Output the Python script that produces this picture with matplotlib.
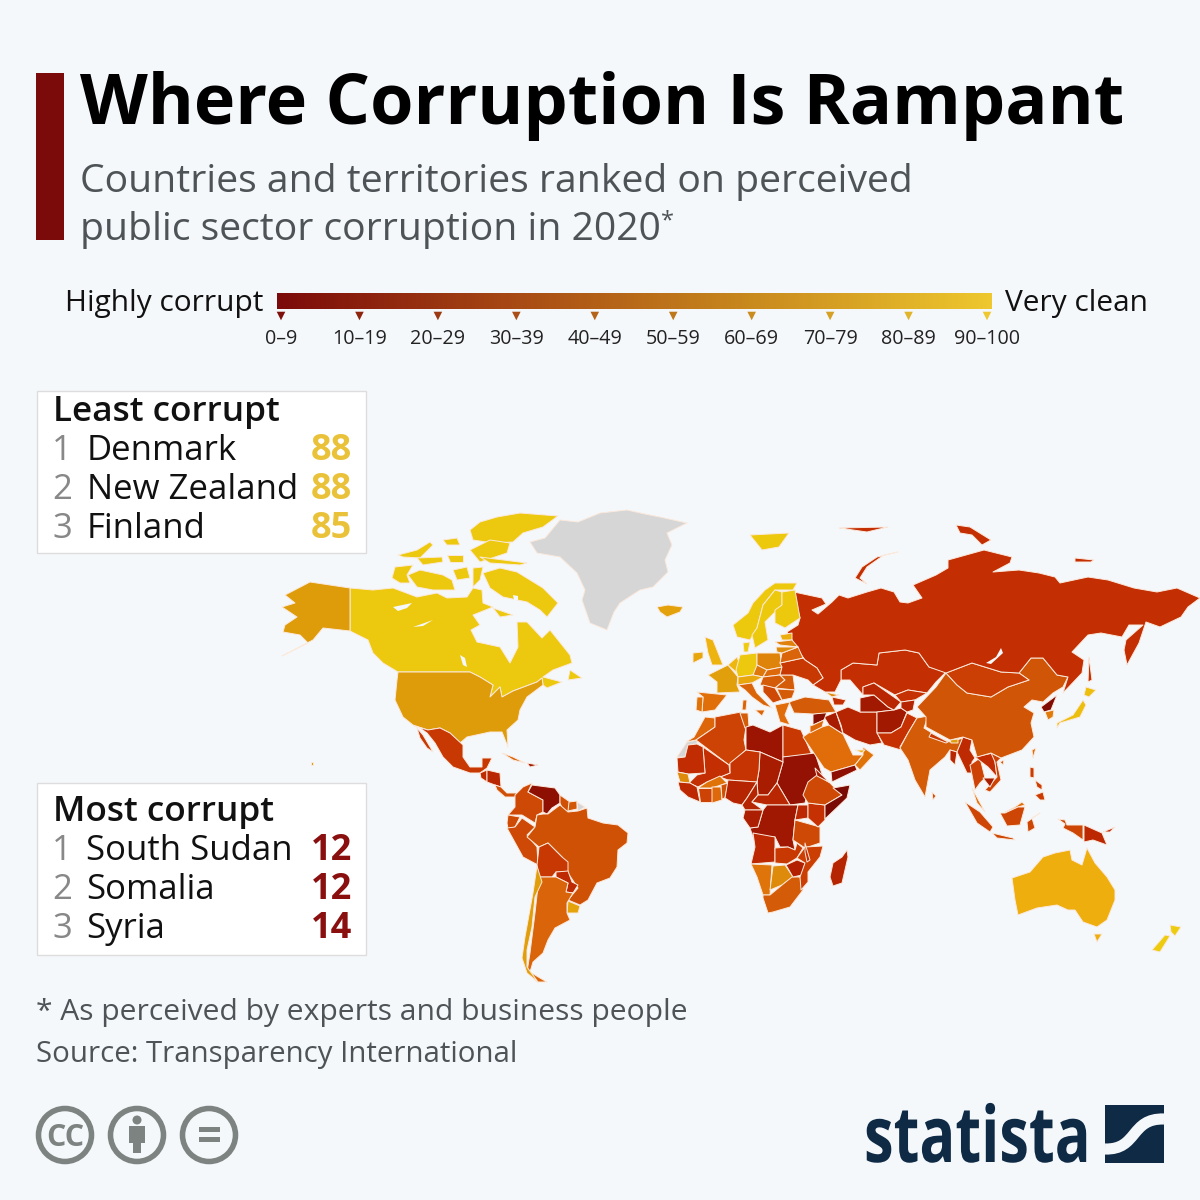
"""Where Corruption Is Rampant: world map of perceived public sector corruption."""

import matplotlib

matplotlib.use("Agg")
import matplotlib.pyplot as plt
import numpy as np
from matplotlib.colors import LinearSegmentedColormap, Normalize
from matplotlib.patches import Circle, PathPatch, Polygon, Rectangle
from matplotlib.path import Path
from matplotlib.patheffects import AbstractPathEffect
from matplotlib.transforms import Affine2D

plt.rcParams["font.family"] = ["Open Sans", "DejaVu Sans"]

BG = "#f5f8fb"
DARK_RED = "#7b0a0a"
GREY_TEXT = "#4d5356"
NO_DATA = "#d6d6d6"
NAVY = "#0f2a45"
ICON = "#7d8380"

TITLE = "Where Corruption Is Rampant"
SUBTITLE = ["Countries and territories ranked on perceived", "public sector corruption in 2020"]
BIN_LABELS = ["0–9", "10–19", "20–29", "30–39", "40–49", "50–59", "60–69", "70–79", "80–89", "90–100"]
LEAST_NAMES = ["Denmark", "New Zealand", "Finland"]
LEAST_SCORES = [88, 88, 85]
MOST_NAMES = ["South Sudan", "Somalia", "Syria"]
MOST_SCORES = [12, 12, 14]
FOOTNOTES = ["* As perceived by experts and business people", "Source: Transparency International"]

# scores as read from the fill colours, None = no data
SCORES = {
    "Canada": 83, "USA": 67, "Greenland": None, "Mexico": 33, "Guatemala": 28, "Honduras": 26,
    "Panama": 40, "Cuba": 47, "Haiti": 18, "Colombia": 38, "Venezuela": 15, "Guyana": 41,
    "Suriname": 43, "French Guiana": None, "Ecuador": 39, "Peru": 38, "Brazil": 41, "Bolivia": 33,
    "Paraguay": 28, "Uruguay": 71, "Argentina": 47, "Chile": 68, "W Sahara": None, "Morocco": 48,
    "Algeria": 36, "Tunisia": 44, "Libya": 17, "Egypt": 33, "Sudan": 16, "Chad": 21, "Niger": 32,
    "Mali": 30, "Mauritania": 29, "Senegal": 60, "Guinea": 27, "Ivory Coast": 36, "Burkina": 52,
    "Ghana": 49, "Benin": 41, "Nigeria": 25, "Cameroon": 25, "CAR": 26, "DRC": 18, "Congo": 22,
    "Angola": 27, "Namibia": 53, "Botswana": 60, "South Africa": 44, "Zimbabwe": 24, "Zambia": 33,
    "Tanzania": 38, "Mozambique": 35, "Malawi": 30, "Uganda": 27, "Kenya": 31, "Ethiopia": 38,
    "Eritrea": 21, "Somalia": 12, "Madagascar": 25, "Saudi": 50, "Yemen": 15, "Oman": 52,
    "Qatar": 76, "Iraq": 21, "Syria": 14, "Jordan": 49, "Turkey": 44, "Georgia": 60, "Armenia": 30,
    "Iran": 25, "Turkmenistan": 19, "Afghanistan": 19, "Pakistan": 31, "India": 44, "Nepal": 33,
    "Bhutan": 68, "Bangladesh": 26, "Myanmar": 28, "Thailand": 36, "Laos": 29, "Vietnam": 36,
    "Cambodia": 21, "Malaysia": 51, "Indonesia": 37, "Philippines": 34, "PNG": 27, "Australia": 76,
    "New Zealand": 88, "Japan": 80, "North Korea": 13, "South Korea": 55, "China": 42,
    "Taiwan": 50, "Mongolia": 35, "Kazakhstan": 30, "Uzbekistan": 26, "Kyrgyzstan": 31,
    "Tajikistan": 25, "Russia": 30, "Iceland": 70, "Norway": 84, "Sweden": 85, "Finland": 85,
    "Sri Lanka": 38, "Denmark": 88, "UK": 77, "Ireland": 72, "France": 69, "Benelux": 78, "Germany": 82,
    "Poland": 58, "Czechia": 54, "Austria": 73, "Slovakia": 49, "Hungary": 44, "Italy": 47,
    "Romania": 44, "Serbia": 38, "Bulgaria": 44, "Greece": 50, "Ukraine": 33, "Belarus": 47,
    "Estonia": 75, "Latvia": 57, "Lithuania": 60, "Spain": 51, "Portugal": 52,
}

# country outlines, in map units
OUTLINES = {
    "Canada": [
        [(350, 588), (373, 590), (393, 588), (417, 597), (437, 593), (447, 598), (467, 597), (473, 588),
         (482, 590), (483, 603), (493, 607), (473, 615), (480, 625), (471, 630), (477, 642), (500, 647),
         (510, 663), (513, 657), (518, 647), (517, 622), (527, 622), (542, 638), (550, 630), (570, 655),
         (572, 663), (553, 670), (543, 677), (562, 682), (547, 688), (543, 685), (542, 678),
         (537, 682), (513, 691), (502, 697), (500, 687), (490, 697), (493, 685), (480, 677), (470, 672),
         (398, 672), (383, 663), (373, 653), (368, 640), (350, 631)],
        [(483, 573), (500, 568), (517, 572), (530, 580), (543, 588), (558, 603), (547, 617), (540, 610), (527, 602), (503, 597), (490, 588)],
        [(470, 530), (480, 522), (497, 517), (520, 513), (558, 516), (543, 527), (523, 533), (513, 542), (493, 543), (473, 540)],
        [(443, 540), (457, 538), (460, 545), (447, 545)],
        [(398, 555), (417, 550), (430, 542), (433, 545), (420, 558), (403, 557)],
        [(417, 558), (442, 557), (443, 562), (423, 565)],
        [(447, 555), (463, 555), (463, 562), (450, 562)],
        [(470, 550), (490, 540), (510, 543), (507, 553), (480, 562)],
        [(480, 557), (527, 563), (520, 565), (490, 563)],
        [(392, 578), (395, 567), (413, 565), (407, 575), (410, 583), (400, 583)],
        [(408, 575), (420, 570), (443, 575), (452, 580), (455, 590), (433, 590), (417, 587)],
        [(453, 570), (467, 567), (470, 578), (457, 580)],
        [(473, 568), (483, 567), (480, 580), (473, 587)],
        [(493, 608), (513, 615), (500, 617)],
        [(570, 670), (582, 678), (568, 680)],
    ],
    "USA": [
        [(398, 672), (470, 672), (480, 677), (493, 685), (490, 697), (500, 687), (502, 697), (513, 691),
         (537, 682), (542, 678), (543, 685), (527, 697), (520, 710), (518, 720), (507, 730), (508, 747),
         (502, 732), (490, 732), (467, 737), (460, 743), (450, 733), (440, 728), (428, 730), (413, 725),
         (403, 717), (395, 700), (397, 680)],
        [(350, 588), (310, 582), (285, 595), (295, 603), (282, 607), (297, 617), (285, 625), (283, 632),
         (300, 635), (308, 643), (282, 656), (313, 640), (323, 628), (350, 631)],
        [(311, 762), (313, 762), (313, 765), (311, 765)],
    ],
    "Greenland": [[(530, 542), (545, 538), (560, 520), (578, 522), (600, 513), (627, 510), (645, 514), (660, 517),
                   (687, 523), (667, 533), (672, 545), (665, 560), (668, 572), (653, 587), (640, 590), (620, 603),
                   (614, 612), (607, 630), (590, 623), (582, 600), (585, 590), (577, 573), (560, 557), (537, 553)]],
    "Mexico": [[(414, 726), (428, 730), (440, 728), (450, 733), (463, 745), (463, 757), (470, 767), (482, 767),
                (482, 758), (492, 758), (487, 768), (480, 773), (470, 773), (453, 767), (443, 757), (435, 743),
                (427, 733), (420, 728)],
               [(417, 728), (423, 735), (433, 752), (427, 748), (420, 738)]],
    "Guatemala": [[(480, 773), (487, 770), (487, 782), (481, 778)]],
    "Honduras": [[(487, 770), (500, 773), (501, 787), (495, 785), (487, 782)]],
    "Panama": [[(495, 785), (501, 787), (507, 793), (517, 793), (515, 797), (505, 797), (497, 790)]],
    "Cuba": [[(502, 753), (513, 757), (525, 763), (513, 760)]],
    "Haiti": [[(527, 763), (538, 765), (530, 767)]],
    "Colombia": [[(532, 783), (528, 792), (543, 800), (543, 812), (537, 815), (535, 823), (522, 815), (508, 815),
                  (515, 807), (515, 795), (523, 787)]],
    "Venezuela": [[(532, 785), (555, 788), (560, 795), (560, 803), (552, 808), (547, 814), (543, 812), (543, 800), (528, 792)]],
    "Guyana": [[(560, 795), (570, 802), (568, 812), (562, 808), (560, 803)]],
    "Suriname": [[(569, 802), (577, 801), (577, 809), (568, 811)]],
    "French Guiana": [[(577, 802), (585, 807), (578, 811)]],
    "Ecuador": [[(508, 815), (520, 817), (515, 827), (508, 829), (507, 823)]],
    "Peru": [[(522, 818), (535, 827), (527, 835), (537, 847), (538, 865), (523, 857), (507, 828), (515, 827)]],
    "Brazil": [[(537, 815), (543, 814), (548, 814), (560, 805), (568, 812), (578, 811), (587, 808), (588, 818),
                (603, 823), (618, 825), (628, 833), (627, 843), (618, 850), (617, 867), (610, 878), (597, 883),
                (588, 900), (580, 905), (568, 900), (578, 888), (568, 873), (562, 857), (548, 843), (539, 847),
                (527, 837), (535, 827)]],
    "Bolivia": [[(539, 847), (548, 843), (562, 857), (568, 862), (568, 872), (556, 872), (552, 877), (539, 877), (537, 865)]],
    "Paraguay": [[(556, 872), (568, 871), (572, 882), (578, 885), (573, 893), (566, 892), (568, 883), (556, 877)]],
    "Uruguay": [[(568, 901), (580, 906), (578, 913), (567, 913)]],
    "Argentina": [[(539, 877), (552, 877), (556, 877), (568, 883), (566, 892), (573, 893), (567, 903), (567, 913),
                   (570, 920), (555, 928), (548, 940), (543, 953), (533, 962), (530, 972), (540, 978), (547, 982),
                   (537, 982), (527, 972), (530, 953), (535, 913)]],
    "Chile": [[(537, 866), (542, 882), (535, 897), (532, 927), (527, 950), (527, 967), (538, 982), (527, 973),
               (522, 958), (525, 937), (533, 893)]],
    "W Sahara": [[(697, 740), (687, 742), (677, 757), (685, 757), (688, 745), (697, 744)]],
    "Morocco": [[(715, 718), (705, 717), (694, 737), (686, 742), (696, 740), (715, 727)]],
    "Algeria": [[(715, 717), (741, 712), (746, 727), (744, 740), (746, 750), (729, 765), (696, 740), (715, 727)]],
    "Tunisia": [[(740, 713), (748, 713), (749, 727), (745, 728)]],
    "Libya": [[(746, 727), (753, 725), (770, 732), (783, 725), (783, 762), (760, 752), (746, 750)]],
    "Egypt": [[(783, 725), (801, 730), (812, 755), (783, 757)]],
    "Sudan": [[(783, 757), (815, 753), (823, 777), (810, 782), (805, 803), (790, 805), (777, 783), (783, 762)]],
    "Chad": [[(760, 752), (783, 762), (777, 783), (768, 795), (758, 795), (757, 782), (759, 770)]],
    "Niger": [[(730, 763), (746, 750), (760, 752), (759, 770), (757, 782), (728, 780), (720, 777), (730, 773)]],
    "Mali": [[(703, 747), (729, 765), (730, 773), (720, 777), (707, 782), (698, 787), (689, 783), (697, 775), (705, 773)]],
    "Mauritania": [[(688, 745), (697, 744), (703, 747), (705, 773), (688, 774), (678, 772), (677, 758), (685, 757)]],
    "Senegal": [[(677, 772), (688, 774), (690, 783), (680, 782)]],
    "Guinea": [[(678, 782), (690, 783), (697, 787), (700, 802), (688, 797), (680, 790)]],
    "Ivory Coast": [[(698, 788), (712, 788), (712, 802), (700, 802)]],
    "Burkina": [[(707, 782), (720, 776), (727, 783), (712, 788), (698, 788)]],
    "Ghana": [[(712, 787), (721, 787), (722, 800), (712, 803)]],
    "Benin": [[(721, 785), (728, 783), (725, 798), (722, 799)]],
    "Nigeria": [[(728, 780), (757, 782), (747, 798), (742, 805), (733, 803), (725, 798)]],
    "Cameroon": [[(757, 782), (758, 795), (752, 802), (763, 810), (745, 810), (742, 805), (747, 798)]],
    "CAR": [[(758, 795), (768, 795), (777, 783), (790, 805), (767, 805), (752, 802)]],
    "DRC": [[(767, 805), (790, 805), (798, 805), (795, 820), (793, 840), (795, 850), (788, 847), (780, 847),
             (775, 837), (753, 837), (750, 828), (758, 827), (763, 810)]],
    "Congo": [[(745, 810), (763, 810), (758, 827), (750, 828), (743, 818)]],
    "Angola": [[(753, 833), (775, 837), (775, 862), (751, 864), (755, 847)]],
    "Namibia": [[(751, 864), (772, 865), (770, 895), (763, 895), (757, 877)]],
    "Botswana": [[(773, 866), (785, 865), (793, 877), (782, 885), (770, 890)]],
    "South Africa": [[(763, 895), (770, 895), (782, 885), (792, 877), (800, 877), (803, 890), (790, 907), (773, 912), (768, 913), (763, 898)]],
    "Zimbabwe": [[(786, 865), (797, 860), (805, 863), (802, 875), (793, 877)]],
    "Zambia": [[(775, 848), (788, 847), (795, 850), (797, 843), (803, 848), (797, 858), (787, 864), (775, 863)]],
    "Tanzania": [[(795, 820), (820, 827), (820, 843), (805, 848), (793, 840)]],
    "Mozambique": [[(805, 847), (823, 846), (820, 857), (808, 872), (808, 882), (801, 890), (800, 877), (805, 863), (797, 858)]],
    "Malawi": [[(805, 843), (810, 860), (807, 862), (805, 852)]],
    "Uganda": [[(798, 805), (808, 805), (808, 818), (795, 820)]],
    "Kenya": [[(808, 803), (825, 805), (825, 820), (818, 827), (808, 818)]],
    "Ethiopia": [[(817, 775), (830, 783), (842, 795), (825, 805), (808, 803), (803, 795), (808, 782)]],
    "Eritrea": [[(815, 768), (829, 782), (817, 776)]],
    "Somalia": [[(833, 788), (850, 785), (847, 798), (825, 819), (825, 805), (842, 795)]],
    "Madagascar": [[(847, 850), (848, 857), (842, 883), (833, 886), (830, 877), (833, 863), (842, 857)]],
    "Saudi": [[(810, 732), (822, 727), (829, 725), (843, 734), (853, 755), (863, 755), (855, 765), (831, 772), (824, 768), (803, 737)]],
    "Yemen": [[(831, 772), (855, 765), (857, 770), (832, 782)]],
    "Oman": [[(863, 747), (874, 755), (860, 770), (855, 765), (863, 755)]],
    "Qatar": [[(855, 750), (865, 750), (862, 753)]],
    "Iraq": [[(824, 717), (836, 712), (841, 727), (843, 734), (829, 725)]],
    "Syria": [[(813, 714), (827, 712), (824, 720), (813, 725)]],
    "Jordan": [[(810, 726), (813, 725), (824, 720), (822, 727), (810, 733)]],
    "Turkey": [[(789, 702), (805, 697), (829, 700), (836, 712), (813, 714), (794, 713)]],
    "Georgia": [[(825, 692), (839, 695), (832, 697)]],
    "Armenia": [[(832, 697), (846, 700), (843, 705), (834, 705)]],
    "Iran": [[(836, 712), (848, 707), (860, 712), (877, 712), (877, 732), (882, 743), (870, 745), (855, 740), (843, 733), (841, 725)]],
    "Turkmenistan": [[(860, 698), (874, 695), (888, 707), (894, 710), (877, 712), (860, 712)]],
    "Afghanistan": [[(877, 712), (894, 710), (901, 708), (907, 712), (901, 727), (891, 733), (877, 733)]],
    "Pakistan": [[(877, 733), (891, 733), (901, 727), (907, 713), (917, 718), (908, 733), (900, 747), (901, 750), (884, 745)]],
    "India": [[(917, 718), (928, 716), (924, 728), (940, 738), (950, 742), (963, 738), (957, 752), (950, 750),
               (945, 757), (930, 770), (925, 797), (915, 780), (908, 760), (900, 748), (908, 733)]],
    "Sri Lanka": [[(932, 792), (936, 796), (933, 800)]],
    "Nepal": [[(931, 733), (948, 742), (946, 743), (929, 737)]],
    "Bhutan": [[(950, 740), (958, 739), (958, 743), (951, 743)]],
    "Bangladesh": [[(950, 750), (957, 752), (955, 765), (950, 760)]],
    "Myanmar": [[(963, 737), (972, 740), (970, 750), (975, 758), (972, 762), (972, 773), (967, 773), (957, 752)]],
    "Thailand": [[(970, 765), (980, 758), (985, 778), (980, 783), (975, 790), (972, 775)]],
    "Laos": [[(975, 757), (993, 753), (995, 762), (997, 777), (988, 767)]],
    "Vietnam": [[(991, 753), (1001, 758), (997, 762), (1001, 780), (990, 792), (985, 790), (997, 777), (995, 762)]],
    "Cambodia": [[(983, 778), (995, 778), (990, 787)]],
    "Malaysia": [[(972, 788), (985, 812), (977, 803)],
                 [(1005, 812), (1015, 807), (1022, 802), (1025, 805), (1018, 807), (1005, 813)]],
    "Indonesia": [[(965, 802), (980, 812), (993, 827), (990, 832), (977, 823)],
                  [(992, 833), (1013, 838), (1015, 840), (997, 838)],
                  [(1000, 813), (1005, 813), (1018, 807), (1025, 807), (1020, 825), (1007, 826)],
                  [(1027, 822), (1040, 813), (1032, 818), (1035, 828), (1028, 832)],
                  [(1058, 819), (1065, 820), (1067, 825), (1083, 825), (1083, 840), (1073, 833), (1063, 828), (1065, 824)]],
    "Philippines": [[(1030, 767), (1034, 768), (1034, 778), (1030, 777)],
                    [(1035, 795), (1043, 792), (1045, 800), (1040, 800)],
                    [(1035, 780), (1042, 785), (1042, 790), (1037, 787)]],
    "PNG": [[(1084, 825), (1102, 833), (1107, 845), (1093, 840), (1084, 842)],
            [(1103, 832), (1115, 827), (1110, 832)]],
    "Australia": [[(1012, 878), (1030, 872), (1043, 857), (1055, 853), (1070, 850), (1072, 860), (1082, 865),
                   (1087, 848), (1095, 863), (1107, 877), (1115, 890), (1115, 900), (1107, 920), (1097, 927),
                   (1083, 922), (1075, 910), (1068, 910), (1057, 905), (1037, 908), (1018, 915), (1015, 900)],
                  [(1094, 934), (1102, 934), (1097, 942)]],
    "New Zealand": [[(1170, 925), (1181, 927), (1175, 936), (1171, 932)],
                    [(1165, 935), (1170, 936), (1160, 952), (1152, 950)]],
    "Japan": [[(1083, 700), (1086, 705), (1080, 717), (1060, 723), (1057, 728), (1057, 723), (1073, 715)],
              [(1086, 687), (1096, 690), (1089, 697), (1084, 695)]],
    "North Korea": [[(1041, 707), (1057, 695), (1051, 710), (1044, 712)]],
    "South Korea": [[(1045, 712), (1054, 710), (1053, 717), (1048, 720)]],
    "China": [[(917, 707), (936, 687), (946, 673), (957, 685), (967, 693), (991, 697), (1008, 687), (1029, 680),
               (1019, 673), (1031, 658), (1043, 658), (1057, 675), (1068, 677), (1063, 687), (1053, 693), (1043, 702),
               (1032, 700), (1024, 707), (1034, 713), (1031, 723), (1034, 737), (1022, 750), (1001, 758), (991, 753),
               (977, 757), (972, 740), (963, 737), (950, 740), (926, 727), (926, 717)],
              [(1000, 762), (1004, 760), (1003, 765)]],
    "Taiwan": [[(1032, 750), (1036, 748), (1033, 758)]],
    "Mongolia": [[(946, 673), (972, 663), (1001, 672), (1019, 673), (1029, 680), (1008, 687), (991, 697), (967, 693), (957, 685)]],
    "Kazakhstan": [[(841, 670), (853, 663), (877, 665), (879, 653), (905, 650), (919, 653), (929, 667), (946, 672),
                    (936, 682), (927, 693), (908, 690), (895, 695), (874, 683), (863, 687), (863, 695), (850, 680), (841, 680)]],
    "Uzbekistan": [[(863, 687), (874, 683), (891, 695), (901, 702), (894, 710), (888, 707), (874, 695), (863, 695)]],
    "Kyrgyzstan": [[(895, 695), (908, 690), (927, 693), (915, 700), (901, 702)]],
    "Tajikistan": [[(901, 702), (915, 700), (913, 710), (907, 712), (901, 708)]],
    "Russia": [
        [(794, 592), (822, 598), (826, 604), (812, 610), (818, 614), (832, 602), (839, 595), (848, 598), (867, 592),
         (881, 588), (894, 592), (900, 602), (908, 603), (922, 598), (913, 585), (936, 575), (948, 568), (948, 560),
         (984, 550), (1012, 557), (1010, 563), (993, 572), (1019, 570), (1039, 573), (1055, 577), (1060, 583),
         (1088, 577), (1108, 580), (1134, 588), (1157, 592), (1177, 588), (1200, 598), (1188, 607), (1181, 617),
         (1160, 627), (1146, 622), (1139, 643), (1127, 665), (1124, 650), (1126, 640), (1143, 625), (1129, 625),
         (1122, 637), (1101, 633), (1088, 635), (1072, 652), (1084, 660), (1082, 673), (1063, 693), (1068, 677),
         (1057, 675), (1043, 658), (1031, 658), (1019, 673), (1001, 672), (972, 663), (946, 673), (929, 667),
         (919, 653), (905, 650), (879, 653), (877, 665), (853, 663), (841, 670), (841, 680), (835, 692), (825, 692),
         (813, 685), (823, 678), (817, 668), (805, 660), (800, 653), (792, 640), (787, 632), (798, 625), (800, 618), (795, 600)],
        [(898, 552), (884, 555), (867, 567), (860, 578), (867, 584), (855, 578), (862, 567), (877, 557)],
        [(956, 525), (970, 527), (991, 540), (982, 545), (972, 535), (960, 533)],
        [(1075, 558), (1094, 560), (1091, 562), (1075, 562)],
        [(839, 528), (888, 527), (867, 532)],
        [(1089, 657), (1092, 680), (1088, 682)],
    ],
    "Iceland": [[(657, 607), (668, 605), (683, 607), (680, 612), (667, 617), (660, 612)]],
    "Norway": [[(733, 625), (748, 613), (753, 603), (765, 590), (775, 583), (797, 583), (793, 590), (775, 590),
                (763, 605), (757, 628), (750, 640), (737, 637)],
               [(750, 535), (789, 533), (779, 547), (762, 550)]],
    "Sweden": [[(752, 635), (757, 628), (763, 605), (775, 590), (782, 592), (782, 605), (765, 622), (768, 640), (755, 648)]],
    "Finland": [[(782, 592), (795, 590), (800, 618), (785, 628), (775, 623), (775, 610), (782, 605)]],
    "Denmark": [[(743, 643), (750, 642), (748, 652), (744, 652)]],
    "UK": [[(705, 637), (713, 640), (723, 665), (712, 665), (708, 653)]],
    "Ireland": [[(693, 653), (703, 652), (703, 658), (693, 663)]],
    "France": [[(708, 675), (728, 665), (738, 677), (737, 685), (740, 692), (717, 693), (717, 682)]],
    "Benelux": [[(728, 665), (737, 657), (740, 665), (736, 672)]],
    "Germany": [[(740, 655), (757, 653), (757, 667), (753, 675), (738, 677), (736, 670)]],
    "Poland": [[(757, 653), (780, 653), (782, 667), (767, 670), (757, 665)]],
    "Czechia": [[(757, 665), (767, 670), (763, 677), (753, 675)]],
    "Austria": [[(738, 677), (753, 675), (763, 677), (752, 683), (738, 685)]],
    "Slovakia": [[(767, 670), (782, 667), (780, 675), (763, 677)]],
    "Hungary": [[(763, 677), (780, 675), (785, 680), (775, 688), (760, 685)]],
    "Italy": [[(738, 685), (752, 683), (757, 693), (772, 708), (763, 705), (752, 697), (745, 690)],
              [(755, 710), (765, 710), (762, 716)],
              [(743, 700), (747, 700), (746, 710), (742, 710)]],
    "Romania": [[(780, 675), (793, 675), (795, 690), (775, 688), (785, 680)]],
    "Serbia": [[(763, 685), (775, 688), (782, 700), (773, 703), (763, 692)]],
    "Bulgaria": [[(777, 689), (795, 690), (792, 698), (782, 700)]],
    "Greece": [[(775, 705), (790, 702), (785, 715), (790, 725), (780, 722)]],
    "Ukraine": [[(782, 667), (780, 663), (803, 658), (805, 660), (817, 668), (823, 678), (813, 685), (808, 680), (793, 675), (780, 675)]],
    "Belarus": [[(782, 653), (798, 647), (803, 658), (780, 663)]],
    "Estonia": [[(780, 635), (792, 633), (792, 640), (782, 640)]],
    "Latvia": [[(775, 642), (792, 640), (798, 647), (780, 645)]],
    "Lithuania": [[(776, 647), (798, 647), (782, 653), (777, 652)]],
    "Spain": [[(697, 692), (727, 695), (715, 710), (702, 712), (703, 697)]],
    "Portugal": [[(697, 697), (703, 697), (702, 712), (696, 710)]],
}

# lakes and inland seas, cut out of the land
LAKES = [
    [(393, 607), (412, 603), (407, 608), (398, 611)],
    [(413, 627), (433, 620), (423, 626)],
    [(460, 655), (465, 658), (467, 667), (463, 665)],
    [(1001, 648), (1003, 653), (991, 664), (986, 663), (996, 657)],
    [(513, 595), (518, 596), (518, 600), (514, 600)],
]

# legend gradient stops and map colours, score -> colour
SCORE_STOPS = [0, 12, 17, 30, 36, 42, 50, 60, 67, 76, 82, 100]
SCORE_COLORS = ["#6e0505", "#7a0a04", "#9d1502", "#c42e02", "#cd4305", "#d05506",
                "#e06c0a", "#de8a0a", "#de9c0a", "#edae0e", "#ecc80e", "#f0d010"]

cmap = LinearSegmentedColormap.from_list(
    "cpi", [(s / 100, c) for s, c in zip(SCORE_STOPS, SCORE_COLORS)]
)
norm = Normalize(0, 100)
bar_cmap = LinearSegmentedColormap.from_list("bar", [DARK_RED, "#a84a14", "#c98a1e", "#eec82e"])


class Squeeze(AbstractPathEffect):
    """Narrow a text horizontally around a pixel column, no condensed font is installed."""

    def __init__(self, x0, sx):
        super().__init__()
        self.x0 = x0
        self.sx = sx

    def draw_path(self, renderer, gc, tpath, affine, rgbFace=None):
        squeezed = affine + Affine2D().translate(-self.x0, 0).scale(self.sx, 1).translate(self.x0, 0)
        renderer.draw_path(gc, tpath, squeezed, rgbFace)


fig = plt.figure(figsize=(12, 12), dpi=100, facecolor=BG)
ax = fig.add_axes([0, 0, 1, 1])
ax.set_xlim(0, 1200)
ax.set_ylim(1200, 0)
ax.axis("off")


def put(x, y, s, size, color="black", ha="left", weight="normal"):
    return ax.text(x, y, s, fontsize=size, color=color, ha=ha, va="baseline", fontweight=weight)


# header
ax.add_patch(Rectangle((36, 73), 28, 167, fc=DARK_RED, ec="none"))
put(80, 124, TITLE, 50.5, weight="bold")
put(80, 192, SUBTITLE[0], 28.15, GREY_TEXT)
put(80, 240, SUBTITLE[1], 28.15, GREY_TEXT)
put(661, 227, "*", 17, GREY_TEXT)

# colour legend
put(65, 311, "Highly corrupt", 21.5, "#111111")
put(1005, 311, "Very clean", 21.5, "#111111")
ax.imshow(np.linspace(0, 1, 256)[None, :], cmap=bar_cmap, extent=(277, 992, 309, 293), aspect="auto")
ax.set_xlim(0, 1200)
ax.set_ylim(1200, 0)
tick_x = np.linspace(281, 987, len(BIN_LABELS))
ax.scatter(tick_x, [316] * len(tick_x), marker="v", s=38, linewidths=0,
           c=bar_cmap(np.linspace(0.03, 1, len(tick_x))))
for x, label in zip(tick_x, BIN_LABELS):
    put(x, 344, label, 14.2, "#222222", ha="center")

# map
for name, shapes in OUTLINES.items():
    score = SCORES[name]
    fill = NO_DATA if score is None else cmap(norm(score))
    for shape in shapes:
        ax.add_patch(Polygon(shape, closed=True, fc=fill, ec="#fbe9dc", lw=0.7, joinstyle="round"))
for lake in LAKES:
    ax.add_patch(Polygon(lake, closed=True, fc=BG, ec="none"))


def rank_box(y0, height, heading, names, scores, color, title_y, row_y, name_x):
    ax.add_patch(Rectangle((37, y0), 329, height, fc="white", ec="#dddddd", lw=1, zorder=3))
    put(53, title_y, heading, 25.3, "#111111", weight="semibold").set_zorder(4)
    for i, (n, s) in enumerate(zip(names, scores)):
        put(52, row_y[i], str(i + 1), 25, "#888888").set_zorder(4)
        put(name_x, row_y[i], n, 25, "#111111").set_zorder(4)
        put(352, row_y[i], str(s), 26, color, ha="right", weight="bold").set_zorder(4)


rank_box(391, 162, "Least corrupt", LEAST_NAMES, LEAST_SCORES, "#eac23a", 421, [460, 499, 538], 87)
rank_box(783, 172, "Most corrupt", MOST_NAMES, MOST_SCORES, "#8a0f0f", 821, [860, 899, 938], 86)

# footer
put(36, 1020, FOOTNOTES[0], 21.6, GREY_TEXT)
put(36, 1062, FOOTNOTES[1], 21.2, GREY_TEXT)

# licence icons
for cx in (65, 137, 209):
    ax.add_patch(Circle((cx, 1135), 26.5, fc="none", ec=ICON, lw=4))
put(65, 1146, "CC", 22, ICON, ha="center", weight="bold")
ax.add_patch(Circle((137, 1120), 4.5, fc=ICON, ec="none"))
ax.add_patch(Rectangle((129, 1126), 16, 17, fc=ICON, ec="none"))
ax.add_patch(Rectangle((133, 1142), 8, 11, fc=ICON, ec="none"))
ax.add_patch(Rectangle((199, 1127), 21, 5, fc=ICON, ec="none"))
ax.add_patch(Rectangle((199, 1137), 21, 5, fc=ICON, ec="none"))

# statista logo
logo = put(864, 1162, "statista", 56, NAVY, weight="bold")
logo.set_path_effects([Squeeze(864, 0.765)])
ax.add_patch(Rectangle((1105, 1105), 59, 58, fc=NAVY, ec="none"))
swoosh = Path([(1105, 1149), (1138, 1150), (1130, 1118), (1164, 1119)],
              [Path.MOVETO, Path.CURVE4, Path.CURVE4, Path.CURVE4])
ax.add_patch(PathPatch(swoosh, fc="none", ec=BG, lw=8, capstyle="butt"))

fig.savefig("out.png", dpi=100, facecolor=BG)
